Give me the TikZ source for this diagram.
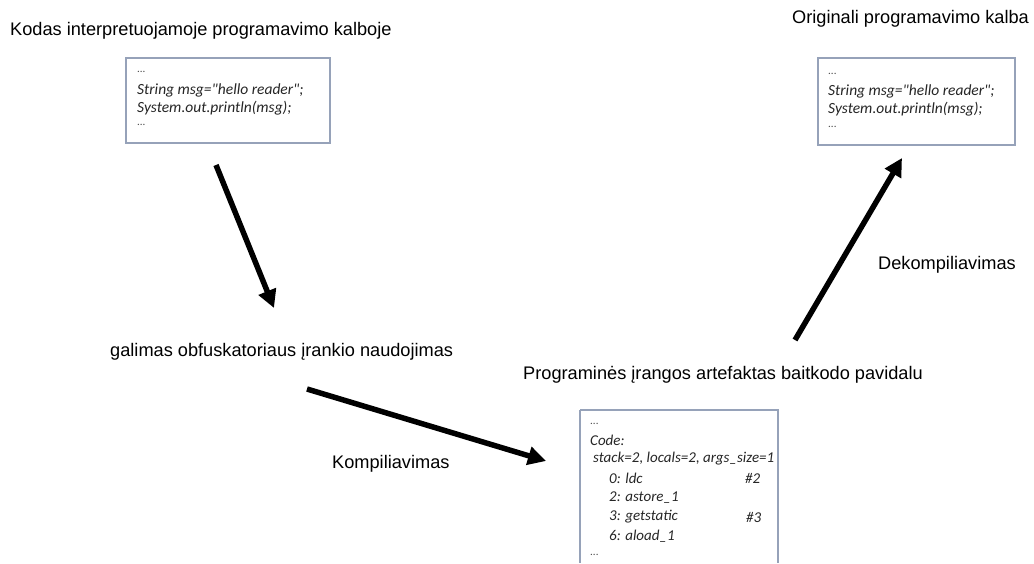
\documentclass[tikz,border=0pt]{standalone}
\usepackage{fontspec}
\setmainfont{Liberation Sans}
\newfontfamily\codefont{Carlito}
\usetikzlibrary{arrows.meta}
\definecolor{boxcol}{RGB}{150,162,185}
\tikzset{
  lbl/.style={font=\fontsize{18.2}{21}\selectfont, inner sep=0pt, anchor=west},
  codebox/.style={draw=boxcol, line width=1.3pt, fill=white},
  code/.style={font=\codefont\itshape\fontsize{15.5}{18}\selectfont, inner sep=0pt, anchor=west, text=black!85},
  codeb/.style={font=\codefont\itshape\fontsize{15}{18}\selectfont, inner sep=0pt, anchor=west, text=black!85},
  dots/.style={font=\codefont\fontsize{11}{12}\selectfont, inner sep=0pt, anchor=west, text=black!70},
  bigarrow/.style={line width=5.5pt, -{Triangle[length=18pt,width=18pt]}}
}
\begin{document}
\begin{tikzpicture}[x=1pt,y=-1pt]
\useasboundingbox (0,0) rectangle (1034,563);
% labels
\node[lbl] (l1) at (10,31) {Kodas interpretuojamoje programavimo kalboje};
\node[lbl] (l2) at (792,19) {Originali programavimo kalba};
\node[lbl] (l3) at (110,352) {galimas obfuskatoriaus įrankio naudojimas};
\node[lbl] (l4) at (523,375) {Programinės įrangos artefaktas baitkodo pavidalu};
\node[lbl] (l5) at (878,265) {Dekompiliavimas};
\node[lbl] (l6) at (332,464) {Kompiliavimas};
% box 1
\draw[codebox] (126,58) rectangle (330,143);
\node[dots] (b1a) at (137,72) {...};
\node[code] (b1b) at (137,90) {String msg="hello reader";};
\node[code] (b1c) at (137,108) {System.out.println(msg);};
\node[dots] (b1d) at (137,125) {...};
% box 2
\draw[codebox] (818,58) rectangle (1015,145);
\node[dots] (b2a) at (828,74) {...};
\node[code] (b2b) at (828,91) {String msg="hello reader";};
\node[code] (b2c) at (828,109) {System.out.println(msg);};
\node[dots] (b2d) at (828,127) {...};
% box 3
\draw[codebox] (580,410) -- (580,563) (580,410) -- (778,410) -- (778,563);
\node[dots] (b3a) at (590,424) {...};
\node[codeb] (b3b) at (590,440) {Code:};
\node[codeb] (b3c) at (593,459) {stack=2, locals=2, args\_size=1};
\node[codeb] (b3d) at (609,478) {0: ldc};
\node[codeb] (b3d2) at (745,478) {\#2};
\node[codeb] (b3e) at (609,498) {2: astore\_1};
\node[codeb] (b3f) at (609,517) {3: getstatic};
\node[codeb] (b3f2) at (746,517) {\#3};
\node[codeb] (b3g) at (609,536) {6: aload\_1};
\node[dots] (b3h) at (590,555) {...};
% arrows
\coordinate (a1s) at (216,165);
\coordinate (a1e) at (274,308);
\coordinate (a2s) at (795,340);
\coordinate (a2e) at (902,158);
\coordinate (a3s) at (307,389);
\coordinate (a3e) at (546,461);
\draw[bigarrow] (a1s) -- (a1e);
\draw[bigarrow] (a2s) -- (a2e);
\draw[bigarrow] (a3s) -- (a3e);
\end{tikzpicture}
\end{document}
